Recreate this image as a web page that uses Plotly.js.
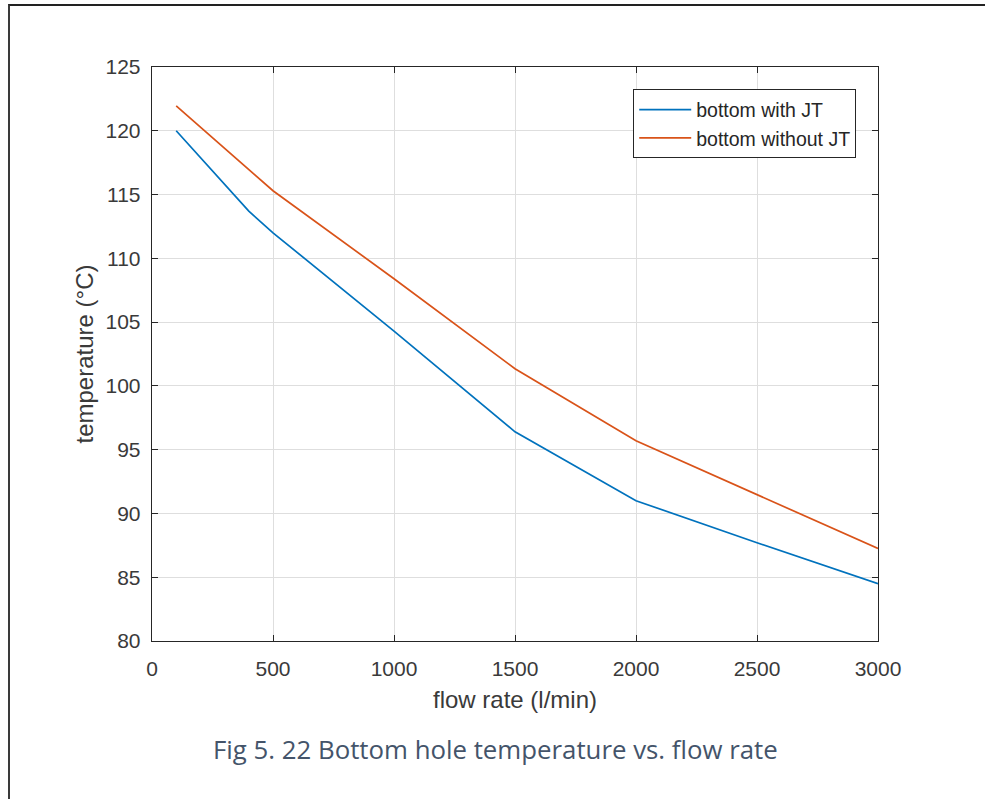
<!DOCTYPE html>
<html>
<head>
<meta charset="utf-8">
<script src="https://cdn.plot.ly/plotly-3.0.1.min.js"></script>
<style>
  html, body { margin: 0; padding: 0; background: #fff; overflow: hidden; }
  #chart { position: absolute; left: 0; top: 0; width: 985px; height: 799px; }
  #frame { position: absolute; left: 8px; top: 4px; width: 1000px; height: 900px;
           border-left: 2px solid #3a3a3a; border-top: 2px solid #222; pointer-events: none; }
</style>
</head>
<body>
<div id="chart"></div>
<div id="frame"></div>
<script>
// Data
const flowWithJT = [100, 400, 500, 1000, 1500, 2000, 2500, 3000];
const tempWithJT = [120.0, 113.7, 112.0, 104.3, 96.4, 91.0, 87.7, 84.5];
const flowWithoutJT = [100, 500, 1000, 1500, 2000, 2500, 3000];
const tempWithoutJT = [121.95, 115.3, 108.4, 101.35, 95.7, 91.5, 87.25];

const xTicks = [0, 500, 1000, 1500, 2000, 2500, 3000];
const yTicks = [80, 85, 90, 95, 100, 105, 110, 115, 120, 125];

const seriesNames = ['bottom with JT', 'bottom without JT'];
const caption = 'Fig 5. 22 Bottom hole temperature vs. flow rate';

const FONT = 'Liberation Sans, Arial, sans-serif';
const axisFont = { family: FONT, size: 21, color: '#3a3a3a' };
const titleFont = { family: FONT, size: 24, color: '#3a3a3a' };

const traces = [
  { x: flowWithJT, y: tempWithJT, name: seriesNames[0], type: 'scatter', mode: 'lines',
    line: { color: '#0072BD', width: 1.7 } },
  { x: flowWithoutJT, y: tempWithoutJT, name: seriesNames[1], type: 'scatter', mode: 'lines',
    line: { color: '#D95319', width: 1.7 } }
];

const layout = {
  width: 985, height: 799,
  paper_bgcolor: '#fff', plot_bgcolor: '#fff',
  margin: { l: 152, r: 107, t: 67, b: 158 },
  showlegend: true,
  legend: {
    x: 0.970, y: 0.961, xanchor: 'right', yanchor: 'top',
    bgcolor: '#fff', bordercolor: '#262626', borderwidth: 1,
    font: { family: FONT, size: 19.5, color: '#262626' },
    tracegroupgap: 0, itemwidth: 52
  },
  xaxis: {
    range: [0, 3000], tickvals: xTicks, ticktext: xTicks.map(String),
    ticks: 'inside', ticklen: 6, tickcolor: '#262626', tickwidth: 1,
    showline: true, linecolor: '#262626', linewidth: 1.3, mirror: 'ticks',
    showgrid: true, gridcolor: '#dedede', gridwidth: 1, zeroline: false,
    tickfont: axisFont, ticklabelstandoff: 8,
    title: { text: 'flow rate (l/min)', font: titleFont, standoff: 12 },
    automargin: false
  },
  yaxis: {
    range: [80, 125], tickvals: yTicks, ticktext: yTicks.map(String),
    ticks: 'inside', ticklen: 6, tickcolor: '#262626', tickwidth: 1,
    showline: true, linecolor: '#262626', linewidth: 1.3, mirror: 'ticks',
    showgrid: true, gridcolor: '#dedede', gridwidth: 1, zeroline: false,
    tickfont: axisFont, ticklabelstandoff: 6,
    title: { text: 'temperature (°C)', font: titleFont, standoff: 5 },
    automargin: false
  },
  annotations: [
    { text: caption, xref: 'paper', yref: 'paper', x: 0.4725, y: -0.188,
      xanchor: 'center', yanchor: 'middle', showarrow: false,
      font: { family: 'Open Sans, Noto Sans, sans-serif', size: 25.8, color: '#44546A' } }
  ]
};

Plotly.newPlot('chart', traces, layout, { staticPlot: true, displayModeBar: false });
</script>
</body>
</html>
